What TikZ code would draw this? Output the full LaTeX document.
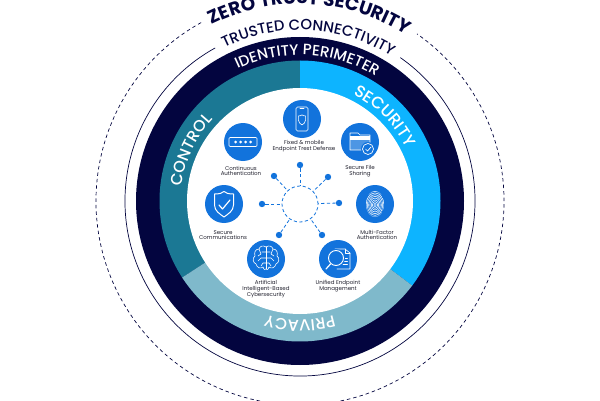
\documentclass[tikz,border=0pt]{standalone}
\usepackage{fontspec}
\setmainfont{Poppins}
\newfontfamily\ringfont{Poppins Medium}
\usetikzlibrary{decorations.text}
\definecolor{navy}{HTML}{03053F}
\definecolor{teal2}{HTML}{1B7894}
\definecolor{cyan2}{HTML}{0DB4FF}
\definecolor{light2}{HTML}{7FB9CB}
\definecolor{blue2}{HTML}{1273DC}
\definecolor{lab}{HTML}{22222F}
\newcommand{\arctext}[5]{% radius, start, end, format, text
  \path[decorate,decoration={text along path,text align=center,text={|#4|#5}}]
    (#2:#1) arc[start angle=#2,end angle=#3,radius=#1];}
\tikzset{
  x=1pt,y=1pt,
  disc/.style={circle,fill=blue2,minimum size=38,inner sep=0},
  dot/.style={circle,fill=blue2,minimum size=6.4,inner sep=0},
  spoke/.style={blue2,line width=0.8,dash pattern=on 3.2 off 2.4},
  lbl/.style={align=center,text=lab,inner sep=0,font=\fontsize{5.5}{5.8}\selectfont},
  ico/.style={white,line width=0.6,line cap=round,line join=round},
}
\begin{document}
\begin{tikzpicture}
\useasboundingbox (0,0) rectangle (600,400);
\clip (0,0) rectangle (600,400);
\begin{scope}[shift={(300,199)}]
  \draw[navy,line width=0.7,dash pattern=on 3.5 off 3] (119:204) arc[start angle=119,end angle=415,radius=204];
  \draw[navy,line width=0.7] (119:175) arc[start angle=119,end angle=415,radius=175];
  \fill[navy] (0,0) circle (164);
  \fill[teal2] (0,0) -- (90:140.5) arc[start angle=90,end angle=213,radius=140.5] -- cycle;
  \fill[cyan2] (0,0) -- (90:140.5) arc[start angle=90,end angle=-37,radius=140.5] -- cycle;
  \fill[light2] (0,0) -- (-37:140.5) arc[start angle=-37,end angle=-147,radius=140.5] -- cycle;
  \fill[white] (0,0) circle (113);
  \arctext{197}{150}{24}{\color{navy}\bfseries\fontsize{18.5}{19}\selectfont}{ZERO TRUST SECURITY}
  \arctext{171}{150}{24}{\color{navy}\ringfont\fontsize{14.8}{16}\selectfont}{TRUSTED CONNECTIVITY}
  \arctext{146}{150}{24}{\color{white}\ringfont\fontsize{15}{16}\selectfont}{IDENTITY PERIMETER}
  \arctext{119}{215}{95}{\color{white}\ringfont\fontsize{16}{17}\selectfont}{CONTROL}
  \arctext{119}{100}{-10}{\color{white}\ringfont\fontsize{16.5}{17}\selectfont}{SECURITY}
  \arctext{119}{-30}{-150}{\color{white}\ringfont\fontsize{16}{17}\selectfont}{PRIVACY}
\end{scope}

% hub
\node[circle,draw=blue2,line width=0.8,dash pattern=on 3.2 off 2.4,minimum size=36,inner sep=0] (hub) at (300,196) {};
\node[dot] (d1) at (300,235) {};
\node[dot] (d2) at (328,223) {};
\node[dot] (d3) at (339,197) {};
\node[dot] (d4) at (322,165) {};
\node[dot] (d5) at (279,165) {};
\node[dot] (d6) at (262,196) {};
\node[dot] (d7) at (274,224) {};
\foreach \d in {d1,d2,d3,d4,d5,d6,d7} \draw[spoke] (\d) -- (hub);

% discs
\node[disc] (phone) at (302,281) {};
\node[disc] (pass) at (243,258) {};
\node[disc] (file) at (360,258) {};
\node[disc] (comm) at (224,196) {};
\node[disc] (finger) at (375,196) {};
\node[disc] (brain) at (266,141) {};
\node[disc] (mgmt) at (338,141) {};

% phone icon
\begin{scope}[shift={(phone.center)},ico]
  \draw[rounded corners=1.5] (-6,-12) rectangle (6,12);
  \draw (-2,10.4) -- (2,10.4);
  \draw (-3.6,3) .. controls (-1.5,3) and (-0.8,3.6) .. (0,4.2) .. controls (0.8,3.6) and (1.5,3) .. (3.6,3) -- (3.6,-1) .. controls (3.6,-3.5) and (1.5,-5) .. (0,-6) .. controls (-1.5,-5) and (-3.6,-3.5) .. (-3.6,-1) -- cycle;
\end{scope}
% password icon
\begin{scope}[shift={(pass.center)},ico]
  \draw[rounded corners=1] (-14,-4.5) rectangle (14,4.5);
  \foreach \x in {-7.5,-2.5,2.5,7.5} \fill[white] (\x,0) circle (1.5);
\end{scope}
% folder icon
\begin{scope}[shift={(file.center)},ico]
  \fill[white,opacity=.25] (-10,-8) rectangle (10,5);
  \draw (-10,-8) -- (-10,9) -- (-2,9) -- (0,7) -- (10,7) -- (10,-8) -- cycle;
  \fill[white] (-10,2) rectangle (10,6);
  \fill[blue2] (8,-7) circle (7);
  \draw[line width=.7] (8,-7) circle (5.5);
  \draw[line width=.7] (5.5,-7) -- (7.5,-9) -- (11,-5);
\end{scope}
% shield icon
\begin{scope}[shift={(comm.center)},ico,line width=1]
  \draw (-9.5,10) .. controls (-4,10) and (-2,11) .. (0,12.5) .. controls (2,11) and (4,10) .. (9.5,10) -- (9.5,-1) .. controls (9.5,-7) and (4,-10) .. (0,-13) .. controls (-4,-10) and (-9.5,-7) .. (-9.5,-1) -- cycle;
  \draw[line width=1.2] (-5,-1) -- (-1.5,-5) -- (6,4);
\end{scope}
% fingerprint icon
\begin{scope}[shift={(finger.center)},ico,line width=.55]
  \clip (0,0) ellipse (9 and 13);
  \foreach \r in {1.5,3,4.5,6,7.5,9,10.5,12,13.5} \draw (0,-1) ellipse ({\r*.85} and {\r*1.15});
\end{scope}
% brain icon
\begin{scope}[shift={(brain.center)},ico]
  \draw (0,-10) -- (0,12);
  \foreach \s in {1,-1} {
    \draw[xscale=\s] (0,12) .. controls (3,14) and (6,13) .. (7,10) .. controls (11,10) and (12,6) .. (11,3) .. controls (14,1) and (13,-4) .. (10,-5) .. controls (9,-9) and (5,-10) .. (3,-8) .. controls (2,-11) and (1,-11) .. (0,-10);
    \draw[xscale=\s] (0,7) -- (4,7) (7,10) -- (5,5) -- (8,3);
    \draw[xscale=\s] (0,1) -- (5,1) -- (8,-2);
    \draw[xscale=\s] (0,-4) -- (3,-4) -- (5,-7);
  }
\end{scope}
% management icon
\begin{scope}[shift={(mgmt.center)},ico]
  \draw (-3,10) -- (7,10) -- (12,6) -- (12,-10) -- (-1,-10);
  \draw (7,10) -- (7,6) -- (12,6);
  \foreach \y in {1,-2,-5} \draw (5,\y) -- (9.5,\y);
  \fill[blue2] (-2,1) circle (9);
  \draw[line width=.9] (-2,1) circle (7.5);
  \draw[line width=1.2] (-7.5,-5) -- (-12,-10);
\end{scope}

% labels
\node[lbl] (t1) at (304,254) {Fixed \& mobile\\Endpoint Trest Defense};
\node[lbl] (t2) at (241,229) {Continuous\\Authentication};
\node[lbl] (t3) at (360,229) {Secure File\\Sharing};
\node[lbl] (t4) at (223,165) {Secure\\Communications};
\node[lbl] (t5) at (377,165) {Multi-Factor\\Authentication};
\node[lbl] (t6) at (266,111) {Artificial\\Intelligent-Based\\Cybersecurity};
\node[lbl] (t7) at (338,114) {Unified Endpoint\\Management};
\end{tikzpicture}
\end{document}
